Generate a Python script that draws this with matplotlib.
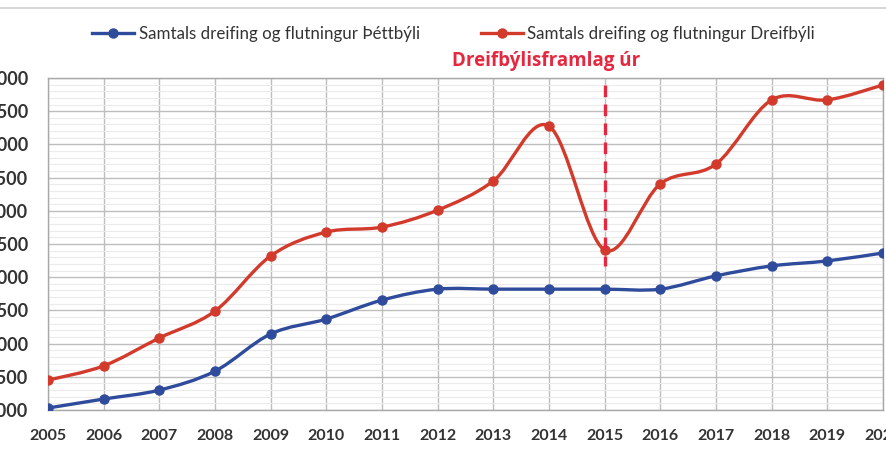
import matplotlib
matplotlib.use("Agg")
import matplotlib.pyplot as plt
from matplotlib.path import Path
from matplotlib.patches import PathPatch
from matplotlib.lines import Line2D
import numpy as np

years = list(range(2005, 2021))
thettbyli = [1030, 1165, 1300, 1585, 2145, 2370, 2655, 2820, 2820, 2820, 2820, 2820, 3020, 3170, 3245, 3365]
dreifbyli = [1450, 1665, 2085, 2490, 3320, 3680, 3755, 4010, 4450, 5275, 3410, 4405, 4705, 5670, 5670, 5895]
ytick_vals = list(range(1000, 6001, 500))
ytick_labels = [f"{v // 1000}.{v % 1000:03d}" for v in ytick_vals]
label_thett = "Samtals dreifing og flutningur Þéttbýli"
label_dreif = "Samtals dreifing og flutningur Dreifbýli"
annot_text = "Dreifbýlisframlag úr"
annot_year = 2015

blue = "#2F4B9B"
red = "#D23A2C"
annot_red = "#E5283F"

plt.rcParams['font.family'] = ['Lato', 'DejaVu Sans']

fig = plt.figure(figsize=(8.86, 4.5), dpi=100)
ax = fig.add_axes([48 / 886, 40 / 450, 835 / 886, 332 / 450])


def smooth_path(xs, ys):
    pts = np.column_stack([xs, ys]).astype(float)
    n = len(pts)
    verts = [pts[0]]
    codes = [Path.MOVETO]
    for i in range(n - 1):
        p_prev = pts[i - 1] if i > 0 else pts[i]
        p0 = pts[i]
        p1 = pts[i + 1]
        p_next = pts[i + 2] if i + 2 < n else pts[i + 1]
        c1 = p0 + (p1 - p_prev) / 6.0
        c2 = p1 - (p_next - p0) / 6.0
        verts += [c1, c2, p1]
        codes += [Path.CURVE4] * 3
    return Path(verts, codes)


for vals, col in [(thettbyli, blue), (dreifbyli, red)]:
    patch = PathPatch(smooth_path(years, vals), facecolor='none', edgecolor=col,
                      linewidth=2.4, zorder=3, capstyle='round', joinstyle='round')
    ax.add_patch(patch)
    ax.plot(years, vals, linestyle='none', marker='o', markersize=6.5,
            color=col, zorder=4)

# vertical dashed line
ax.plot([annot_year, annot_year], [5890, 3170], color=annot_red, linewidth=2.4,
        linestyle=(0, (3.5, 2.2)), zorder=5)
ax.text(2013.95, 6260, annot_text, color=annot_red, fontsize=13.5, fontweight='bold',
        ha='center', va='center', family=['Open Sans', 'DejaVu Sans'])

ax.set_xlim(2005, 2020)
ax.set_ylim(1000, 6000)
ax.set_xticks(years)
ax.set_xticklabels([str(y) for y in years])
ax.set_yticks(ytick_vals)
ax.set_yticklabels(ytick_labels)
ax.set_yticks(np.arange(1000, 6001, 100), minor=True)
ax.tick_params(axis='both', which='both', length=0)
ax.tick_params(axis='x', pad=13.5, labelsize=11.5, labelcolor='#333333')
ax.tick_params(axis='y', pad=14, labelsize=13, labelcolor='#333333')
for lab in ax.get_xticklabels() + ax.get_yticklabels():
    lab.set_fontweight('bold')

ax.grid(True, which='major', color='#BDBDBD', linewidth=1.0, zorder=0)
ax.grid(True, which='minor', axis='y', color='#EBEBEB', linewidth=0.8, zorder=0)
ax.set_axisbelow(True)
for s in ax.spines.values():
    s.set_color('#A8A8A8')
    s.set_linewidth(1.0)

handles = [Line2D([], [], color=blue, linewidth=2.4, marker='o', markersize=6.5),
           Line2D([], [], color=red, linewidth=2.4, marker='o', markersize=6.5)]
fig.legend(handles, [label_thett, label_dreif], loc='center', bbox_to_anchor=(0.512, 0.925),
           ncol=2, frameon=False, fontsize=12.2, handlelength=2.5, handletextpad=0.25,
           columnspacing=3.6, labelcolor='#333333')

fig.add_artist(Line2D([0, 1], [1 - 8 / 450, 1 - 8 / 450], color='#D0D0D0', linewidth=1.2,
                      transform=fig.transFigure))

fig.savefig("out.png", dpi=100)
